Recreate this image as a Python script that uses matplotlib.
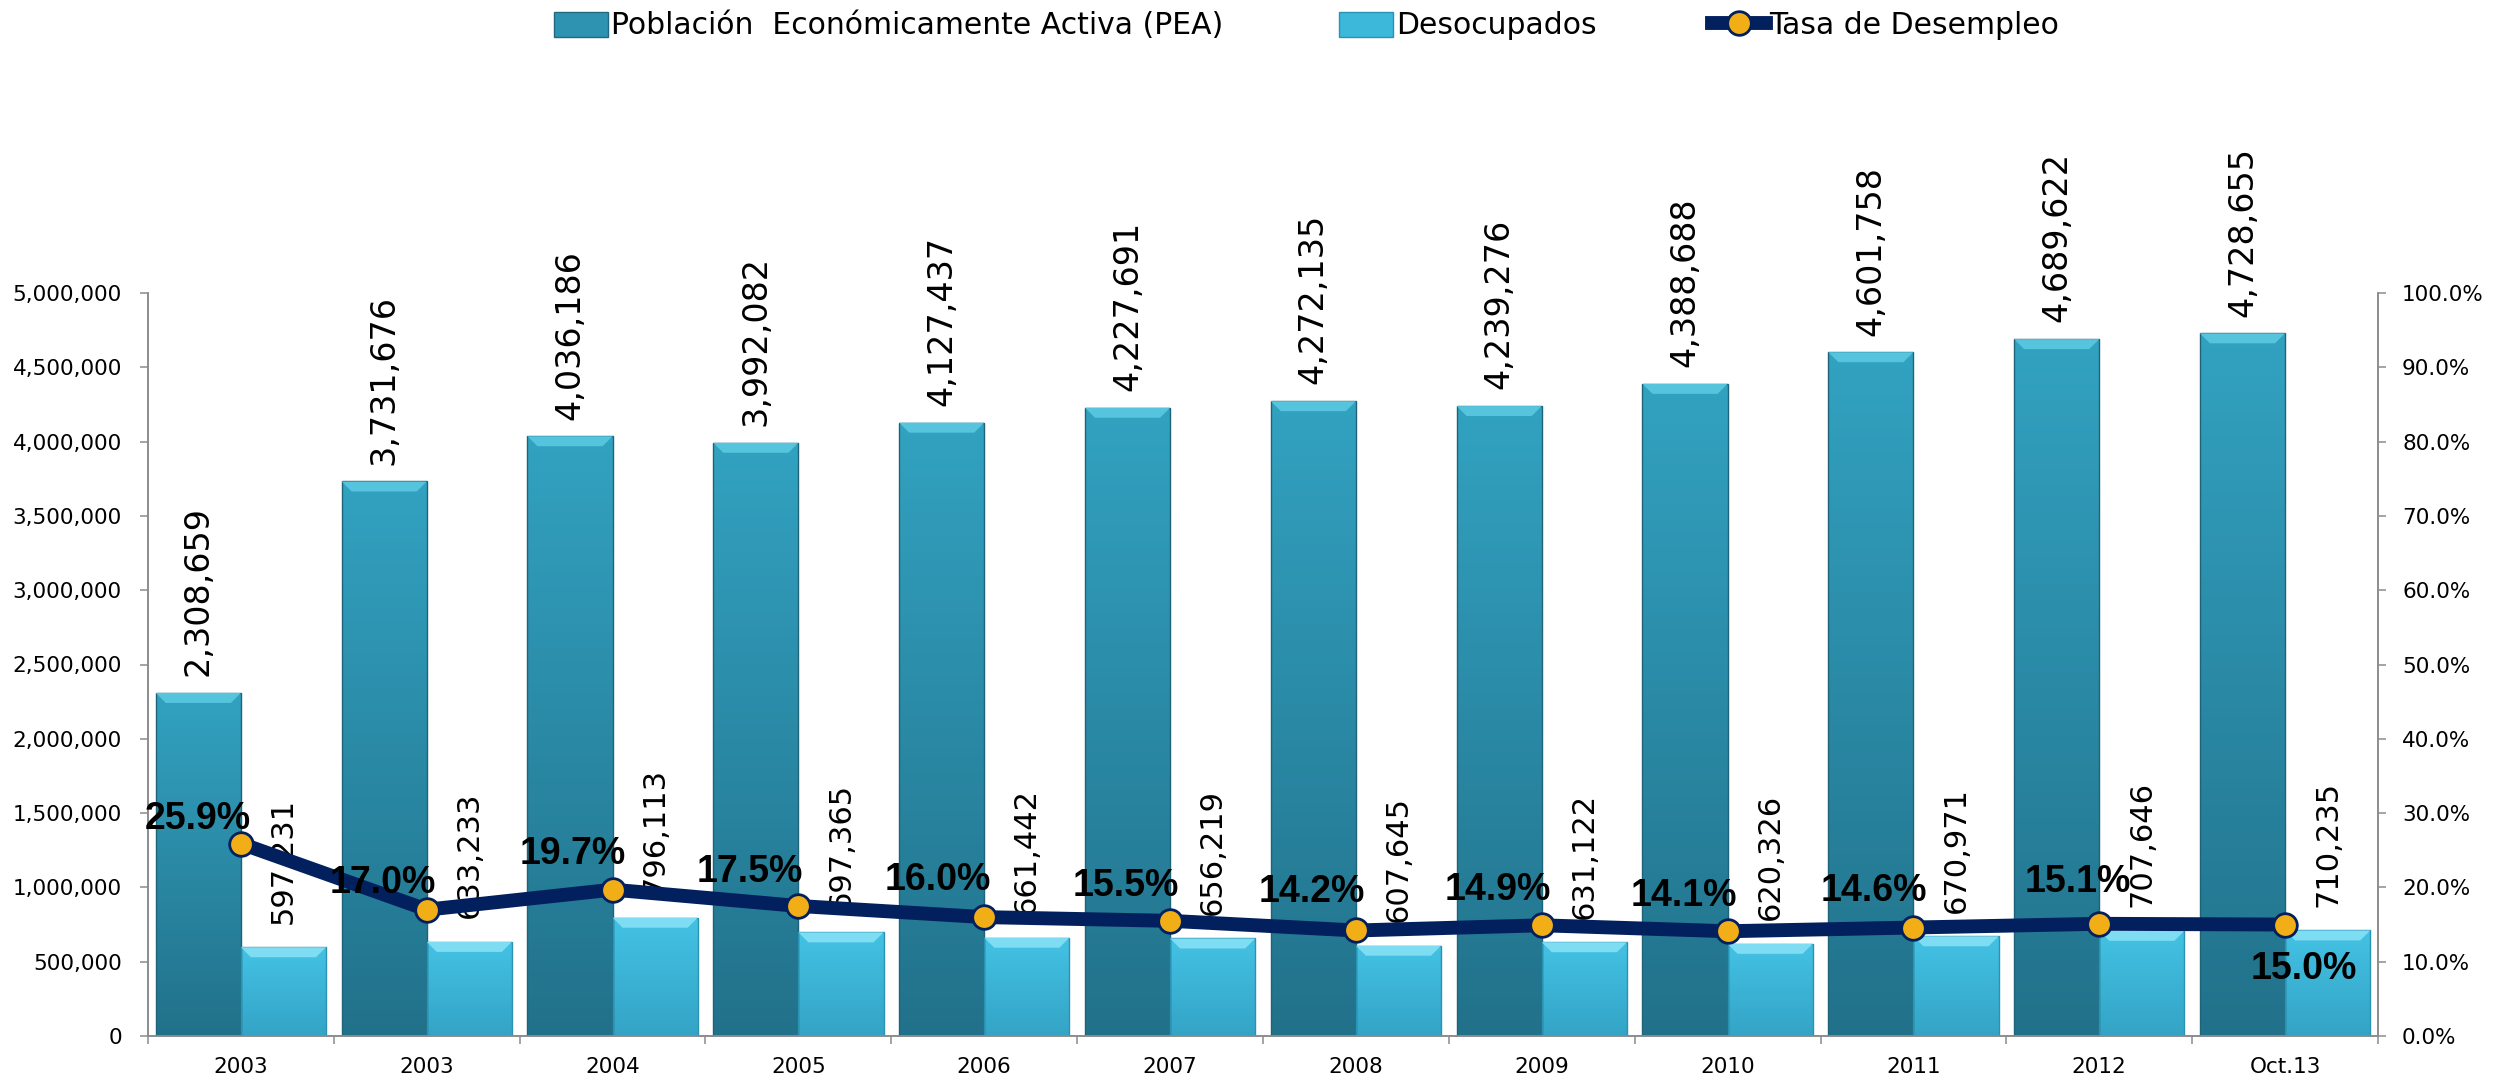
"""PEA, desocupados y tasa de desempleo (2003 - Oct.13)."""

import matplotlib
import numpy as np

matplotlib.use("Agg")
import matplotlib.pyplot as plt  # noqa: E402
from matplotlib.colors import LinearSegmentedColormap  # noqa: E402
from matplotlib.lines import Line2D  # noqa: E402
from matplotlib.patches import Patch, Polygon, Rectangle  # noqa: E402
from matplotlib.ticker import FuncFormatter, MultipleLocator, PercentFormatter  # noqa: E402

periods = ["2003", "2003", "2004", "2005", "2006", "2007", "2008", "2009", "2010", "2011", "2012", "Oct.13"]
pea = [2308659, 3731676, 4036186, 3992082, 4127437, 4227691, 4272135, 4239276, 4388688, 4601758, 4689622, 4728655]
desocupados = [597231, 633233, 796113, 697365, 661442, 656219, 607645, 631122, 620326, 670971, 707646, 710235]
tasa = [25.9, 17.0, 19.7, 17.5, 16.0, 15.5, 14.2, 14.9, 14.1, 14.6, 15.1, 15.0]

W, H = 2510, 1084
LEFT, RIGHT, TOP, BOTTOM = 148, 2378, 293, 1036
NAVY, GOLD, GRAY = "#03205E", "#F2AE16", "#8C8C8C"

# label offsets (pixels, up is positive) for the rate labels
label_offsets = {0: (-43, 25), 1: (-44, 27), 2: (-40, 36), 3: (-49, 34), 4: (-46, 37),
                 6: (-44, 38), 9: (-40, 37), 10: (-21, 42), 11: (19, -44)}


def draw_bar(axis, x, height, width, top, bottom, bevel, edge, px_x, px_y):
    rect = Rectangle((x - width / 2, 0), width, height, facecolor="none", edgecolor=edge, lw=1.0, zorder=3)
    axis.add_patch(rect)
    cmap = LinearSegmentedColormap.from_list("bar", [bottom, top])
    grad = np.linspace(1, 0, 128).reshape(-1, 1)
    image = axis.imshow(grad, extent=(x - width / 2, x + width / 2, 0, height), origin="upper",
                        cmap=cmap, vmin=0, vmax=1, aspect="auto", zorder=2)
    image.set_clip_path(rect)
    dx, dy = 10 * px_x, 10 * px_y
    axis.add_patch(Polygon([(x - width / 2, height), (x + width / 2, height),
                            (x + width / 2 - dx, height - dy), (x - width / 2 + dx, height - dy)],
                           closed=True, facecolor=bevel, edgecolor="none", zorder=3))


fig = plt.figure(figsize=(W / 100, H / 100), dpi=100)
ax = fig.add_axes([LEFT / W, (H - BOTTOM) / H, (RIGHT - LEFT) / W, (BOTTOM - TOP) / H])
px_x = len(periods) / (RIGHT - LEFT)
px_y = 5_000_000 / (BOTTOM - TOP)

width = 0.458
for i, (p, d) in enumerate(zip(pea, desocupados)):
    draw_bar(ax, i - width / 2, p, width, "#32A2C1", "#22718A", "#55C4DC", "#1E6378", px_x, px_y)
    draw_bar(ax, i + width / 2, d, width, "#43C2E4", "#34A4C6", "#7EDDF2", "#2C92B2", px_x, px_y)
    ax.annotate(f"{p:,}", (i - width / 2, p), xytext=(0, 12), textcoords="offset points",
                rotation=90, ha="center", va="bottom", fontsize=24, zorder=4)
    ax.annotate(f"{d:,}", (i + width / 2, d), xytext=(0, 17), textcoords="offset points",
                rotation=90, ha="center", va="bottom", fontsize=22, zorder=4)

ax.set_xlim(-0.5, len(periods) - 0.5)
ax.set_ylim(0, 5_000_000)
ax.set_xticks(range(len(periods)), periods)
ax.set_xticks(np.arange(-0.5, len(periods), 1), minor=True)
ax.tick_params(axis="x", which="major", length=0, pad=15, labelsize=15.5)
ax.tick_params(axis="x", which="minor", length=5.8, width=1.1, color=GRAY)
ax.yaxis.set_major_locator(MultipleLocator(500_000))
ax.yaxis.set_major_formatter(FuncFormatter(lambda v, _: f"{v:,.0f}"))
ax.tick_params(axis="y", length=5.8, width=1.1, color=GRAY, pad=13, labelsize=15.5)

ax2 = ax.twinx()
x = np.arange(len(periods))
ax2.plot(x, np.array(tasa) / 100, color=NAVY, lw=10, marker="o", ms=17, mfc=GOLD, mec=NAVY, mew=2, zorder=5)
for i, t in enumerate(tasa):
    dx, dy = label_offsets.get(i, (-44, 35))
    ax2.annotate(f"{t:.1f}%", (i, t / 100), xytext=(dx * 0.72, dy * 0.72), textcoords="offset points",
                 ha="center", va="center", fontsize=27, fontweight="bold",
                 family=["Liberation Sans", "DejaVu Sans"], zorder=6)
ax2.set_ylim(0, 1)
ax2.yaxis.set_major_locator(MultipleLocator(0.1))
ax2.yaxis.set_major_formatter(PercentFormatter(1.0, decimals=1))
ax2.tick_params(axis="y", length=5.8, width=1.1, color=GRAY, pad=11.5, labelsize=15.5)

for axis in (ax, ax2):
    axis.spines["top"].set_visible(False)
    for side in ("left", "right", "bottom"):
        axis.spines[side].set_color(GRAY)
        axis.spines[side].set_linewidth(1.2)

handles = [
    Patch(facecolor="#2E93B0", edgecolor="#1F6A80"),
    Patch(facecolor="#3CB8DB", edgecolor="#2A93B3"),
    Line2D([], [], color=NAVY, lw=10, marker="o", ms=17, mfc=GOLD, mec=NAVY, mew=2),
]
labels = ["Población  Económicamente Activa (PEA)", "Desocupados", "Tasa de Desempleo"]
fig.legend(handles, labels, loc="center", bbox_to_anchor=(0.5205, 1 - 26 / H), ncol=3, frameon=False,
           fontsize=21.5, handlelength=1.83, handleheight=0.9, handletextpad=0.1, columnspacing=3.85)

fig.savefig("out.png", dpi=100)
